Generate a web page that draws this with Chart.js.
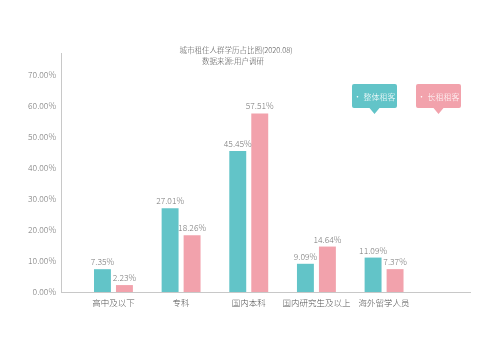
<!DOCTYPE html>
<html><head><meta charset="utf-8">
<script src="https://cdn.jsdelivr.net/npm/chart.js@4"></script>
<style>html,body{margin:0;padding:0;background:#fff;}#wrap{width:500px;height:353px;}</style>
</head><body><div id="wrap"><canvas id="c" width="500" height="353"></canvas></div>
<script>
const categories = ['高中及以下', '专科', '国内本科', '国内研究生及以上', '海外留学人员'];
const seriesNames = ['整体租客', '长租租客'];
const overall = [7.35, 27.01, 45.45, 9.09, 11.09];
const longTerm = [2.23, 18.26, 57.51, 14.64, 7.37];
const yTicks = [0, 10, 20, 30, 40, 50, 60, 70];
const titleLines = ['城市租住人群学历占比图(2020.08)', '数据来源:用户调研'];

const FONT = '"Noto Sans CJK SC", "Noto Sans", sans-serif';
const TEAL = '#62C4C8';
const PINK = '#F2A2AC';

const xs = categories.map((c, i) => i + 1);

const extras = {
  id: 'extras',
  afterDatasetsDraw(chart) {
    const ctx = chart.ctx;
    ctx.save();
    ctx.font = '300 8.5px ' + FONT;
    ctx.fillStyle = '#777';
    ctx.textAlign = 'center';
    ctx.textBaseline = 'bottom';
    chart.data.datasets.forEach((ds, di) => {
      const meta = chart.getDatasetMeta(di);
      meta.data.forEach((el, i) => {
        ctx.fillText(ds.data[i].y.toFixed(2) + '%', el.x, el.y - 3);
      });
    });
    ctx.font = '300 7.5px ' + FONT;
    ctx.fillStyle = '#555';
    ctx.textBaseline = 'middle';
    ctx.fillText(titleLines[0], 236, 50);
    ctx.fillText(titleLines[1], 233, 61);
    const boxes = [{x: 352, c: TEAL, t: seriesNames[0]}, {x: 416, c: PINK, t: seriesNames[1]}];
    boxes.forEach(b => {
      const w = 45, h = 24, y = 84, r = 2;
      ctx.fillStyle = b.c;
      ctx.beginPath();
      ctx.moveTo(b.x + r, y);
      ctx.lineTo(b.x + w - r, y);
      ctx.quadraticCurveTo(b.x + w, y, b.x + w, y + r);
      ctx.lineTo(b.x + w, y + h - r);
      ctx.quadraticCurveTo(b.x + w, y + h, b.x + w - r, y + h);
      ctx.lineTo(b.x + w / 2 + 5, y + h);
      ctx.lineTo(b.x + w / 2, y + h + 6);
      ctx.lineTo(b.x + w / 2 - 5, y + h);
      ctx.lineTo(b.x + r, y + h);
      ctx.quadraticCurveTo(b.x, y + h, b.x, y + h - r);
      ctx.lineTo(b.x, y + r);
      ctx.quadraticCurveTo(b.x, y, b.x + r, y);
      ctx.closePath();
      ctx.fill();
      ctx.fillStyle = '#fff';
      ctx.font = '300 8px ' + FONT;
      ctx.textAlign = 'center';
      ctx.fillText('• ' + b.t, b.x + w / 2, y + h / 2 + 0.5);
    });
    ctx.restore();
  }
};

new Chart(document.getElementById('c'), {
  type: 'bar',
  data: {
    datasets: [
      {label: seriesNames[0], data: overall.map((v, i) => ({x: xs[i], y: v})), backgroundColor: TEAL},
      {label: seriesNames[1], data: longTerm.map((v, i) => ({x: xs[i], y: v})), backgroundColor: PINK}
    ]
  },
  options: {
    responsive: false,
    animation: false,
    categoryPercentage: 0.65,
    barPercentage: 0.77,
    layout: {padding: {left: 0, right: 30, top: 53, bottom: 41}},
    plugins: {legend: {display: false}, title: {display: false}, tooltip: {enabled: false}},
    scales: {
      x: {
        type: 'linear',
        offset: false,
        min: 0.225,
        max: 6.27,
        grid: {display: false, drawTicks: false, offset: false},
        border: {display: true, color: '#c8c8c8', width: 1},
        afterBuildTicks: s => { s.ticks = xs.map(v => ({value: v})); },
        afterFit: s => { s.height = 20; },
        ticks: {
          autoSkip: false, maxRotation: 0, padding: 6,
          color: '#555', font: {family: FONT, size: 8.5, weight: '300'},
          callback: v => categories[v - 1] || ''
        }
      },
      y: {
        min: 0,
        max: 77,
        grid: {display: false, drawTicks: false},
        border: {display: true, color: '#c8c8c8', width: 1},
        afterBuildTicks: s => { s.ticks = yTicks.map(v => ({value: v})); },
        afterFit: s => { s.width = 61; },
        ticks: {
          padding: 5, color: '#777', font: {family: FONT, size: 8.5, weight: '300'},
          callback: v => v.toFixed(2) + '%'
        }
      }
    }
  },
  plugins: [extras]
});
</script></body></html>
